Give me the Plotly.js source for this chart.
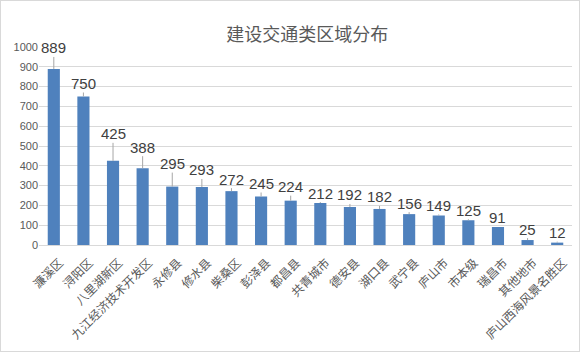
<!DOCTYPE html>
<html><head><meta charset="utf-8">
<script src="https://cdn.plot.ly/plotly-3.0.1.min.js"></script>
<style>html,body{margin:0;padding:0;background:#fff}#c{width:580px;height:352px;box-sizing:border-box;border:1px solid #d9d9d9}</style>
</head><body><div id="c"></div>
<script>
const categories = ["濂溪区","浔阳区","八里湖新区","九江经济技术开发区","永修县","修水县","柴桑区","彭泽县","都昌县","共青城市","德安县","湖口县","武宁县","庐山市","市本级","瑞昌市","其他地市","庐山西海风景名胜区"];
const values = [889,750,425,388,295,293,272,245,224,212,192,182,156,149,125,91,25,12];
const labelOffsets = [-21,-13,-27,-21,-23,-17,-12,-13,-14,-10,-12,-12,-11,-10,-10,-9,-11,-10];

const fontFam = '"Liberation Sans","Noto Sans CJK SC",sans-serif';
const annotations = categories.map((c,i)=>({
  x:c, y:values[i], xref:'x', yref:'y', text:String(values[i]),
  showarrow:true, arrowhead:0, arrowwidth:1, arrowcolor:'#a6a6a6',
  ax:0, ay:labelOffsets[i], borderpad:0,
  font:{family:fontFam, size:15, color:'#404040'}
}));

Plotly.newPlot('c',[{
  type:'bar', x:categories, y:values,
  marker:{color:'#4f81bd'}, hoverinfo:'none'
}],{
  width:578, height:350,
  margin:{l:38,r:7,t:46,b:106},
  bargap:0.59,
  paper_bgcolor:'#fff', plot_bgcolor:'#fff',
  title:{text:'建设交通类区域分布', x:0.53, xanchor:'center', y:0.905, yanchor:'middle',
    font:{family:'"Noto Sans CJK SC",sans-serif', size:18, color:'#595959'}},
  xaxis:{tickangle:-45, tickfont:{family:'"Noto Sans CJK SC",sans-serif', size:12, color:'#595959'},
    ticklabelshift:6, ticklabelstandoff:5,
    showline:true, linecolor:'#d9d9d9', linewidth:1, ticks:'', showgrid:false, fixedrange:true},
  yaxis:{range:[0,1000], dtick:100, tickfont:{family:fontFam, size:11, color:'#595959'},
    gridcolor:'#d9d9d9', gridwidth:1, zeroline:false, showline:false, ticks:'', fixedrange:true},
  annotations:annotations,
  showlegend:false
},{displayModeBar:false,staticPlot:true});
</script></body></html>
